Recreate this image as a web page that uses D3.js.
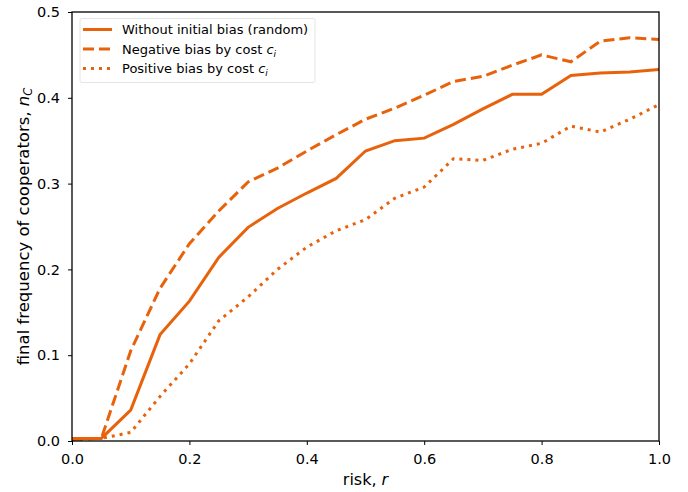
<!DOCTYPE html>
<html><head><meta charset="utf-8">
<script src="https://cdn.jsdelivr.net/npm/d3@7"></script>
<style>body{margin:0;background:#fff}svg{font-family:"DejaVu Sans",sans-serif}</style>
</head><body><svg id="c" width="688" height="492"></svg>
<script>
const risk = [0,0.05,0.1,0.15,0.2,0.25,0.3,0.35,0.4,0.45,0.5,0.55,0.6,0.65,0.7,0.75,0.8,0.85,0.9,0.95,1.0];
const randomBias = [0.003,0.003,0.036,0.124,0.163,0.214,0.249,0.271,0.289,0.306,0.338,0.350,0.353,0.369,0.387,0.404,0.404,0.426,0.429,0.430,0.433];
const negativeBias = [0.002,0.003,0.105,0.178,0.230,0.268,0.302,0.318,0.338,0.357,0.375,0.388,0.403,0.419,0.425,0.438,0.450,0.442,0.466,0.470,0.468];
const positiveBias = [0.002,0.003,0.010,0.052,0.090,0.140,0.168,0.200,0.226,0.245,0.258,0.283,0.296,0.329,0.327,0.340,0.347,0.367,0.360,0.375,0.392];
const xTicks = [0,0.2,0.4,0.6,0.8,1.0];
const yTicks = [0,0.1,0.2,0.3,0.4,0.5];
const seriesNames = ["Without initial bias (random)","Negative bias by cost ","Positive bias by cost "];

const color = "#e8620c";
const svg = d3.select("#c");
const L=72,R=659,T=12,B=441;
const x = d3.scaleLinear().domain([0,1]).range([L,R]);
const y = d3.scaleLinear().domain([0,0.5]).range([B,T]);

const dashes = [null,"11,5","3,5"];
const series = [randomBias,negativeBias,positiveBias];
const line = d3.line().x((d,i)=>x(risk[i])).y(d=>y(d));
const g = svg.append("g");
g.append("defs").append("clipPath").attr("id","cp").append("rect").attr("x",L).attr("y",T).attr("width",R-L).attr("height",B-T);
series.forEach((s,k)=>{
  g.append("path").datum(s).attr("d",line).attr("fill","none").attr("stroke",color)
   .attr("stroke-width",3).attr("stroke-dasharray",dashes[k]).attr("clip-path","url(#cp)");
});

// frame
svg.append("rect").attr("x",L).attr("y",T).attr("width",R-L).attr("height",B-T).attr("fill","none").attr("stroke","#000").attr("stroke-width",1.3);

const xa = svg.append("g").attr("transform",`translate(0,${B})`)
  .call(d3.axisBottom(x).tickValues(xTicks).tickFormat(d3.format(".1f")).tickSizeOuter(0).tickSize(4).tickPadding(9));
const ya = svg.append("g").attr("transform",`translate(${L},0)`)
  .call(d3.axisLeft(y).tickValues(yTicks).tickFormat(d3.format(".1f")).tickSizeOuter(0).tickSize(4).tickPadding(8));
[xa,ya].forEach(a=>{a.select(".domain").remove();a.selectAll("text").attr("font-size",14.5).attr("fill","#000").attr("font-family","DejaVu Sans");a.selectAll("line").attr("stroke","#000").attr("stroke-width",1);});

// axis labels
const xl = svg.append("text").attr("x",(L+R)/2).attr("y",485).attr("text-anchor","middle").attr("font-size",16);
xl.append("tspan").text("risk, ");
xl.append("tspan").attr("font-style","italic").text("r");
const yl = svg.append("text").attr("transform",`translate(29,${(T+B)/2}) rotate(-90)`).attr("text-anchor","middle").attr("font-size",16.5);
yl.append("tspan").text("final frequency of cooperators, ");
yl.append("tspan").attr("font-style","italic").text("n");
yl.append("tspan").attr("font-style","italic").attr("font-size",11.5).attr("dy",3).text("C");

// legend
const lg = svg.append("g");
lg.append("rect").attr("x",80).attr("y",18.5).attr("width",235).attr("height",64).attr("rx",2).attr("fill","#fff").attr("fill-opacity",0.8).attr("stroke","#ddd").attr("stroke-width",0.8);
seriesNames.forEach((n,k)=>{
  const yy = 29.5 + k*19.5;
  lg.append("line").attr("x1",83).attr("x2",112).attr("y1",yy).attr("y2",yy).attr("stroke",color).attr("stroke-width",3).attr("stroke-dasharray",dashes[k]);
  const t = lg.append("text").attr("x",122).attr("y",yy+4.8).attr("font-size",13);
  t.append("tspan").text(n);
  if(k>0){
    t.append("tspan").attr("font-style","italic").text("c");
    t.append("tspan").attr("font-style","italic").attr("font-size",9).attr("dy",3).text("i");
  }
});
</script></body></html>
